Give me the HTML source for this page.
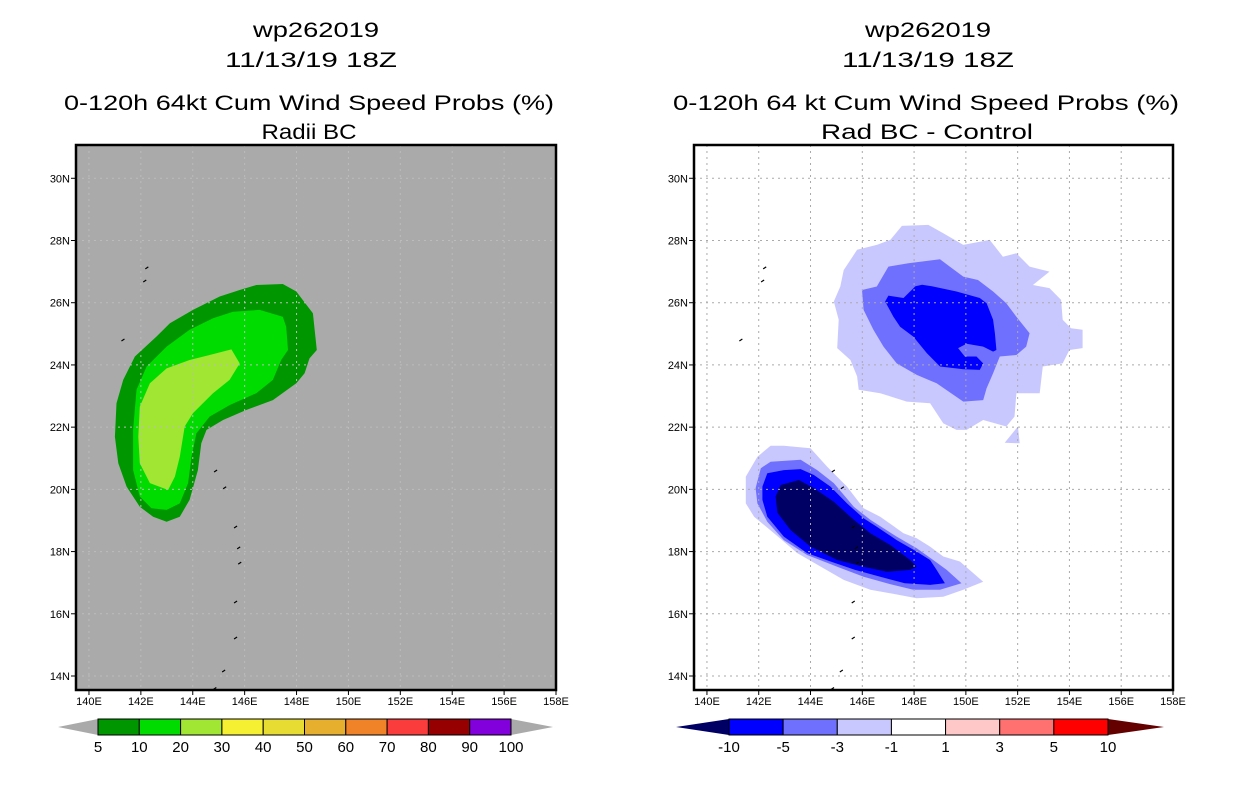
<!DOCTYPE html>
<html><head><meta charset="utf-8">
<style>
html,body{margin:0;padding:0;background:#fff;}
body{width:1236px;height:800px;overflow:hidden;font-family:"Liberation Sans",sans-serif;}
svg text{font-family:"Liberation Sans",sans-serif;}
</style></head>
<body>
<svg id="chart" width="1236" height="800" xmlns="http://www.w3.org/2000/svg">
<g font-size="21" text-anchor="middle" fill="#000" lengthAdjust="spacingAndGlyphs">
<text x="316" y="37" textLength="126" lengthAdjust="spacingAndGlyphs">wp262019</text>
<text x="311" y="67" textLength="172" lengthAdjust="spacingAndGlyphs">11/13/19 18Z</text>
<text x="309" y="110" textLength="490" lengthAdjust="spacingAndGlyphs">0-120h 64kt Cum Wind Speed Probs (%)</text>
<text x="309" y="139" textLength="95" lengthAdjust="spacingAndGlyphs">Radii BC</text>
</g>
<g font-size="21" text-anchor="middle" fill="#000">
<text x="928" y="37" textLength="126" lengthAdjust="spacingAndGlyphs">wp262019</text>
<text x="928" y="67" textLength="172" lengthAdjust="spacingAndGlyphs">11/13/19 18Z</text>
<text x="926" y="110" textLength="506" lengthAdjust="spacingAndGlyphs">0-120h 64 kt Cum Wind Speed Probs (%)</text>
<text x="927" y="139" textLength="212" lengthAdjust="spacingAndGlyphs">Rad BC - Control</text>
</g>
<g id="leftPlot"></g>
<g id="rightPlot"></g>
<g id="leftBar"></g>
<g id="rightBar"></g>
</svg>
<script>
const lonTicks = [140,142,144,146,148,150,152,154,156,158];
const latTicks = [14,16,18,20,22,24,26,28,30];
const leftLevels = ["5","10","20","30","40","50","60","70","80","90","100"];
const leftColors = ["#009600","#00dc00","#a0e632","#f5f032","#e6dc32","#e6af2d","#f08228","#fa3c3c","#960000","#8200dc"];
const rightLevels = ["-10","-5","-3","-1","1","3","5","10"];
const rightColors = ["#0000ff","#7070ff","#c8c8ff","#ffffff","#ffc8c8","#ff7070","#ff0000"];
const left5 = [[146.45,26.57],[147.47,26.6],[147.99,26.36],[148.63,25.66],[148.78,24.48],[148.5,24.21],[148.31,23.73],[147.99,23.41],[147.09,22.87],[146.06,22.55],[145.17,22.23],[144.53,21.91],[144.33,21.48],[144.2,20.62],[143.88,19.66],[143.5,19.12],[142.99,18.96],[142.47,19.12],[141.96,19.44],[141.45,20.09],[141.13,20.84],[141.0,21.69],[141.06,22.77],[141.32,23.52],[141.77,24.27],[142.6,24.91],[143.12,25.34],[144.01,25.77],[145.04,26.2],[145.81,26.41]];
const left10 = [[145.55,25.71],[146.58,25.77],[147.47,25.55],[147.6,25.23],[147.67,24.48],[147.41,24.16],[147.09,23.52],[146.45,23.09],[145.42,22.71],[144.65,22.34],[144.14,21.8],[143.95,21.05],[143.82,20.2],[143.5,19.55],[142.99,19.34],[142.41,19.39],[141.96,19.77],[141.7,20.62],[141.7,21.91],[141.83,23.2],[142.22,23.95],[142.99,24.59],[143.88,25.13],[144.78,25.5]];
const left20 = [[145.49,24.5],[145.81,24.05],[145.42,23.52],[144.78,23.09],[144.01,22.45],[143.69,22.02],[143.5,21.05],[143.31,20.41],[143.05,19.98],[142.35,20.2],[141.96,20.84],[141.9,21.69],[141.96,22.66],[142.35,23.41],[142.99,23.89],[143.88,24.16],[144.65,24.32]];
const nLight = [[147.53,28.47],[148.55,28.5],[149.13,28.23],[149.9,27.86],[150.92,28.02],[151.43,27.48],[151.95,27.59],[152.46,27.16],[153.23,27.0],[152.59,26.57],[153.23,26.47],[153.68,26.09],[153.74,25.45],[154.06,25.18],[154.51,25.13],[154.51,24.54],[154.0,24.48],[153.74,24.05],[152.97,23.95],[152.85,23.09],[151.95,23.09],[151.88,22.34],[151.56,22.02],[150.67,22.23],[150.03,21.91],[149.64,21.91],[149.13,22.12],[148.62,22.77],[147.72,22.82],[146.69,23.09],[145.86,23.2],[145.8,23.63],[145.54,24.16],[145.03,24.54],[145.09,25.45],[144.9,26.04],[145.15,26.52],[145.28,27.05],[145.8,27.7],[146.56,27.86],[147.08,28.02]];
const nTri = [[152.01,22.02],[152.08,21.48],[151.5,21.5]];
const nMed = [[147.01,27.16],[147.78,27.27],[149.0,27.4],[149.38,27.16],[149.9,26.84],[150.47,26.73],[151.05,26.36],[151.56,25.98],[151.95,25.55],[152.46,25.02],[152.33,24.59],[151.95,24.32],[151.31,24.27],[151.05,23.73],[150.8,23.25],[150.67,22.87],[149.9,22.82],[148.87,23.41],[148.1,23.68],[147.33,24.05],[146.82,24.59],[146.43,25.13],[146.05,25.77],[145.99,26.41],[146.56,26.52]];
const nDark = [[148.05,26.53],[148.31,26.58],[148.69,26.53],[149.64,26.36],[150.54,26.15],[150.8,25.98],[151.05,25.45],[151.12,25.02],[151.18,24.48],[151.05,24.43],[150.67,24.59],[150.03,24.68],[149.7,24.54],[149.96,24.27],[150.41,24.27],[150.67,24.05],[150.54,23.84],[149.9,23.86],[149.0,23.95],[148.49,24.38],[147.97,24.91],[147.46,25.23],[147.2,25.55],[146.88,26.04],[147.01,26.23],[147.59,26.15]];
const sLight = [[142.46,21.4],[142.97,21.4],[144.0,21.32],[144.64,20.73],[145.41,20.09],[146.05,19.39],[146.69,19.12],[147.59,18.59],[148.1,18.43],[148.62,18.16],[149.13,17.84],[149.77,17.68],[150.67,17.03],[149.9,16.77],[149.13,16.55],[148.1,16.5],[147.08,16.66],[146.31,16.77],[145.28,17.09],[144.51,17.46],[143.49,17.95],[142.59,18.59],[141.82,19.12],[141.5,19.55],[141.5,20.41],[141.95,21.05]];
const sMed = [[142.46,20.89],[143.62,20.95],[144.26,20.62],[144.9,20.2],[145.67,19.44],[146.31,19.02],[147.33,18.48],[148.1,18.11],[148.74,17.73],[149.26,17.41],[149.83,16.98],[149.0,16.77],[147.97,16.77],[146.95,16.98],[146.05,17.19],[145.03,17.51],[143.87,17.89],[142.97,18.37],[142.33,18.96],[141.95,19.55],[141.88,20.04],[142.08,20.68]];
const sDark = [[142.33,20.52],[142.97,20.62],[143.62,20.65],[144.13,20.46],[144.77,20.09],[145.41,19.55],[146.05,19.07],[146.56,18.8],[147.33,18.37],[148.1,18.0],[148.62,17.73],[148.87,17.41],[149.19,16.98],[148.62,16.93],[147.64,16.98],[146.69,17.19],[145.72,17.41],[144.77,17.68],[143.87,17.95],[142.97,18.48],[142.33,19.12],[142.14,19.66],[142.14,20.09]];
const sNavy = [[142.85,20.14],[143.55,20.3],[144.13,20.04],[144.9,19.6],[145.67,19.02],[146.31,18.59],[147.08,18.21],[147.85,17.73],[148.1,17.51],[147.85,17.41],[146.95,17.35],[146.05,17.51],[145.03,17.73],[144.0,18.16],[143.23,18.69],[142.72,19.25],[142.65,19.77]];
const islands = [[142.23,27.12],[142.15,26.7],[141.31,24.8],[144.88,20.59],[145.23,20.05],[145.65,18.79],[145.77,18.12],[145.81,17.63],[145.65,16.38],[145.65,15.22],[145.19,14.16],[144.85,13.6]];

const NS="http://www.w3.org/2000/svg";
function mk(tag, attrs, parent){const e=document.createElementNS(NS,tag);for(const k in attrs)e.setAttribute(k,attrs[k]);parent.appendChild(e);return e;}

function drawPanel(g, x0, x1, bg, gridColor, layers){
  const y0=145, y1=690, lonMin=139.5, lonMax=158, latMin=13.55, latMax=31.07;
  const X=lon=>x0+(lon-lonMin)/(lonMax-lonMin)*(x1-x0);
  const Y=lat=>y1-(lat-latMin)/(latMax-latMin)*(y1-y0);
  const bgRect=mk('rect',{x:x0,y:y0,width:x1-x0,height:y1-y0,fill:bg},g);
  
  
  const clipId='clip'+x0;
  const cp=mk('clipPath',{id:clipId},g);mk('rect',{x:x0,y:y0,width:x1-x0,height:y1-y0},cp);
  const inner=mk('g',{'clip-path':'url(#'+clipId+')'},g);
  layers.forEach(([pts,col,name])=>{
    const p=mk('polygon',{points:pts.map(q=>X(q[0]).toFixed(1)+','+Y(q[1]).toFixed(1)).join(' '),fill:col},inner);
    
    
  });
  lonTicks.forEach(l=>{
    const ln=mk('line',{x1:X(l),x2:X(l),y1:y0,y2:y1,stroke:gridColor,'stroke-width':1,'stroke-dasharray':'2,4'},inner);
    
    
    const tk=mk('line',{x1:X(l),x2:X(l),y1:y1,y2:y1+5,stroke:'#000','stroke-width':1},g);
    
    
    const t=mk('text',{x:X(l),y:y1+15,'font-size':11,'text-anchor':'middle'},g);t.textContent=l+'E';
    
    
  });
  latTicks.forEach(l=>{
    const ln=mk('line',{x1:x0,x2:x1,y1:Y(l),y2:Y(l),stroke:gridColor,'stroke-width':1,'stroke-dasharray':'2,4'},inner);
    
    
    const tk=mk('line',{x1:x0-5,x2:x0,y1:Y(l),y2:Y(l),stroke:'#000','stroke-width':1},g);
    
    
    const t=mk('text',{x:x0-6,y:Y(l)+4,'font-size':11,'text-anchor':'end'},g);t.textContent=l+'N';
    
    
  });
  islands.forEach(q=>{
    const s=mk('path',{d:`M${X(q[0])-1.5},${Y(q[1])+1} l3,-2`,stroke:'#000','stroke-width':1.2,fill:'none'},inner);
    
    
  });
  const fr=mk('rect',{x:x0,y:y0,width:x1-x0,height:y1-y0,fill:'none',stroke:'#000','stroke-width':2.5},g);
  
  
}

drawPanel(document.getElementById('leftPlot'),76,556,'#aaaaaa','#bcbcbc',[
  [left5,leftColors[0],'contour-5-10'],[left10,leftColors[1],'contour-10-20'],[left20,leftColors[2],'contour-20-30']]);
drawPanel(document.getElementById('rightPlot'),694,1173,'#ffffff','#aaaaaa',[
  [nLight,rightColors[2],'north-contour-minus1'],[nTri,rightColors[2],'north-contour-minus1-patch'],[nMed,rightColors[1],'north-contour-minus3'],[nDark,rightColors[0],'north-contour-minus5'],
  [sLight,rightColors[2],'south-contour-minus1'],[sMed,rightColors[1],'south-contour-minus3'],[sDark,rightColors[0],'south-contour-minus5'],[sNavy,'#000064','south-contour-minus10']]);

function drawBar(g, tipL, x0, x1, tipR, colors, levels, lowCol, highCol){
  const yT=719, yB=735, yM=727, w=(x1-x0)/colors.length;
  const l=mk('polygon',{points:`${tipL},${yM} ${x0},${yT} ${x0},${yB}`,fill:lowCol},g);
  
  
  const r=mk('polygon',{points:`${tipR},${yM} ${x1},${yT} ${x1},${yB}`,fill:highCol},g);
  
  
  colors.forEach((c,i)=>{
    const b=mk('rect',{x:x0+i*w,y:yT,width:w,height:yB-yT,fill:c,stroke:'#000','stroke-width':1},g);
    
    
  });
  levels.forEach((s,i)=>{
    const t=mk('text',{x:x0+i*w,y:752,'font-size':15,'text-anchor':'middle'},g);t.textContent=s;
    
    
  });
}
drawBar(document.getElementById('leftBar'),58,98,511,553,leftColors,leftLevels,'#aaaaaa','#aaaaaa');
drawBar(document.getElementById('rightBar'),676,729,1108,1164,rightColors,rightLevels,'#000064','#640000');
</script>
</body></html>
